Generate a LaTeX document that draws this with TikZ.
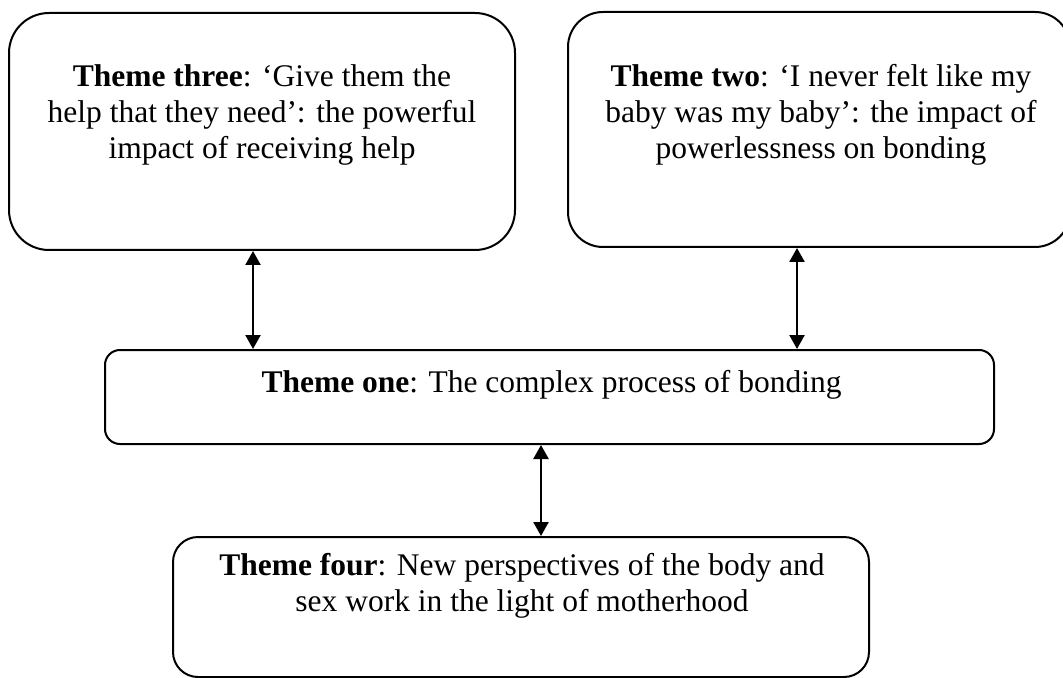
\documentclass[tikz,border=0pt]{standalone}
\usepackage{fontspec}
\setmainfont{Liberation Serif}
\usetikzlibrary{arrows.meta,calc}
\begin{document}
\begin{tikzpicture}[x=0.5pt,y=-0.5pt,
    themebox/.style={draw,line width=1pt,rounded corners=#1,inner sep=0pt},
    themebox/.default=8pt,
    themetext/.style={align=center,inner sep=0pt,anchor=base,font=\fontsize{15.75}{18}\selectfont},
    twoway/.style={{Triangle[length=7pt,width=7.5pt]}-{Triangle[length=7pt,width=7.5pt]},line width=1.2pt}]
    \useasboundingbox (0,0) rectangle (1063,678);
    % boxes
    \node[themebox=20pt,minimum width=253pt,minimum height=118.5pt] (three) at (262,131.5) {};
    \node[themebox=17.5pt,minimum width=251pt,minimum height=117.5pt] (two) at (819,129.5) {};
    \node[themebox=7.5pt,minimum width=444.5pt,minimum height=47pt] (one) at (549.5,397) {};
    \node[themebox=12.5pt,minimum width=348pt,minimum height=70pt] (four) at (521,607) {};
    % texts (base = last line)
    \node[themetext] (threetext) at ($(three.north)+(0,147)$) {\textbf{Theme three}: `Give them the\\help that they need': the powerful\\impact of receiving help};
    \node[themetext] (twotext) at ($(two.north)+(2,148)$) {\textbf{Theme two}: `I never felt like my\\baby was my baby': the impact of\\powerlessness on bonding};
    \node[themetext] (onetext) at ($(one.north)+(2,43)$) {\textbf{Theme one}: The complex process of bonding};
    \node[themetext] (fourtext) at ($(four.north)+(1,75)$) {\textbf{Theme four}: New perspectives of the body and\\sex work in the light of motherhood};
    % arrows
    \coordinate (lx) at (253,0);
    \coordinate (rx) at (797,0);
    \coordinate (bx) at (541,0);
    \draw[twoway] (three.south -| lx) -- (one.north -| lx);
    \draw[twoway] (two.south -| rx) -- (one.north -| rx);
    \draw[twoway] (one.south -| bx) -- (four.north -| bx);
\end{tikzpicture}
\end{document}
